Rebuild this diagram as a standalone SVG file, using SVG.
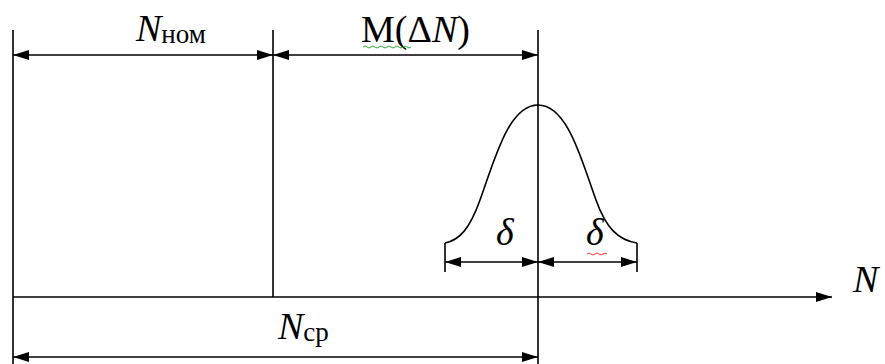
<svg xmlns="http://www.w3.org/2000/svg" width="885" height="364" viewBox="0 0 885 364">
<style>
.ln{stroke:#000;stroke-width:1.6;fill:none}
.i{font-style:italic}
</style>
<defs>
<marker id="ah" viewBox="0 0 16 10" refX="16" refY="5" markerWidth="16" markerHeight="10" markerUnits="userSpaceOnUse" orient="auto-start-reverse">
<path d="M0,0 L16,5 L0,10 Z" fill="#000"/>
</marker>
</defs>
<g id="axes">
<line class="ln" x1="13" y1="30" x2="13" y2="364"/>
<line class="ln" x1="273" y1="30" x2="273" y2="297"/>
<line class="ln" x1="538" y1="30" x2="538" y2="364"/>
<line class="ln" x1="445" y1="243" x2="445" y2="272"/>
<line class="ln" x1="637" y1="243" x2="637" y2="272"/>
</g>
<g id="curve">
<path class="ln" d="M445,243 C460,240 470,228 480,200 C494,162 508,105 538,105 C568,105 582,162 596,200 C606,228 618,240 637,243"/>
</g>
<g id="connectors">
<line class="ln" x1="13" y1="297" x2="832" y2="297" marker-end="url(#ah)"/>
<line class="ln" x1="13" y1="55" x2="273" y2="55" marker-start="url(#ah)" marker-end="url(#ah)"/>
<line class="ln" x1="273" y1="55" x2="538" y2="55" marker-start="url(#ah)" marker-end="url(#ah)"/>
<line class="ln" x1="445" y1="262" x2="538" y2="262" marker-start="url(#ah)" marker-end="url(#ah)"/>
<line class="ln" x1="538" y1="262" x2="637" y2="262" marker-start="url(#ah)" marker-end="url(#ah)"/>
<line class="ln" x1="13" y1="357" x2="538" y2="357" marker-start="url(#ah)" marker-end="url(#ah)"/>
</g>
<g id="labels" font-family="'Liberation Serif', 'Times New Roman', serif" font-size="38" fill="#000">
<text x="136" y="41"><tspan class="i">N</tspan><tspan font-size="27" dy="2">ном</tspan></text>
<text x="361" y="42">M(Δ<tspan class="i">N</tspan>)</text>
<text class="i" x="496" y="245">δ</text>
<text class="i" x="586" y="245">δ</text>
<text x="278" y="339"><tspan class="i">N</tspan><tspan font-size="27" dy="2">ср</tspan></text>
<text class="i" x="853" y="292">N</text>
</g>
<g id="underlines">
<path d="M363,47 q2,-2 4,0 t4,0 t4,0 t4,0 t4,0 t4,0 t4,0 t4,0 t4,0 t4,0 t4,0 t4,0" stroke="#3a3" stroke-width="1" fill="none"/>
<path d="M587,254 q2,-2 4,0 t4,0 t4,0 t4,0 t4,0" stroke="#e33" stroke-width="1" fill="none"/>
</g>
</svg>
